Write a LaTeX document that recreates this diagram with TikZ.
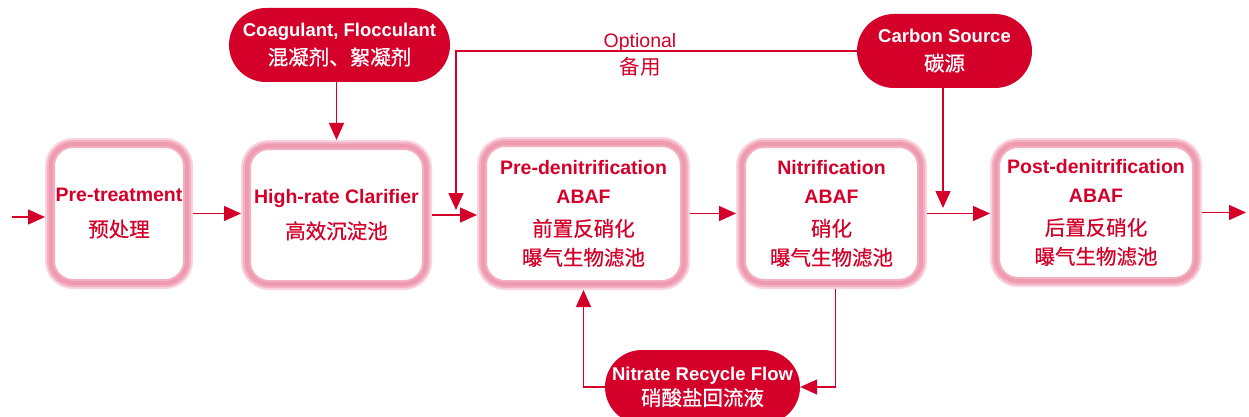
\documentclass[tikz,border=0pt]{standalone}
\usepackage{fontspec}
\setmainfont{Liberation Sans}
\newfontfamily\cjk[FakeBold=0.6]{Noto Sans CJK SC}
\newfontfamily\cjklight{Noto Sans CJK SC}
\usetikzlibrary{arrows.meta,shapes.misc}
\definecolor{dred}{RGB}{212,0,42}
\definecolor{pinkA}{RGB}{249,212,222}
\definecolor{pinkB}{RGB}{243,176,194}
\definecolor{pinkC}{RGB}{238,155,177}
\newcommand{\en}[1]{{\bfseries #1}}
\newcommand{\zh}[1]{{\fontsize{20.5}{29}\cjk #1}}
\begin{document}
\begin{tikzpicture}[x=1pt,y=-1pt,
  stage/.style={rectangle, rounded corners=22pt, draw=pinkB, line width=8pt, fill=white,
     preaction={draw=pinkA, line width=12pt}, postaction={draw=pinkC, line width=4pt},
     text=dred, align=center, outer sep=6pt, inner sep=0pt,
     font=\fontsize{19.5}{29}\selectfont},
  pill/.style={rounded rectangle, fill=dred, text=white, align=center, inner sep=0pt,
     minimum height=74pt, font=\fontsize{18.5}{28}\selectfont},
  flow/.style={draw=dred, line width=1.4pt, -{Triangle[length=17pt,width=15pt]}},
]
\useasboundingbox (0,0) rectangle (1249,417);
\clip (0,0) rectangle (1249,417);
\fill[white] (0,0) rectangle (1249,417);

% stages
\node[stage, minimum width=136pt, minimum height=139pt] (pre) at (119,213.5)
  {\en{Pre-treatment}\\[6pt]\zh{预处理}};
\node[stage, minimum width=179pt, minimum height=138pt] (hrc) at (336.5,215)
  {\en{High-rate Clarifier}\\[6pt]\zh{高效沉淀池}};
\node[stage, minimum width=201pt, minimum height=141pt] (predn) at (583.5,213.5)
  {\en{Pre-denitrification}\\\en{ABAF}\\[4pt]\zh{前置反硝化}\\\zh{曝气生物滤池}};
\node[stage, minimum width=179pt, minimum height=139pt] (nit) at (831.5,213.5)
  {\en{Nitrification}\\\en{ABAF}\\[4pt]\zh{硝化}\\\zh{曝气生物滤池}};
\node[stage, minimum width=200pt, minimum height=137pt] (post) at (1096,212.5)
  {\en{Post-denitrification}\\\en{ABAF}\\[4pt]\zh{后置反硝化}\\\zh{曝气生物滤池}};

% additive pills
\node[pill, minimum width=221pt] (coag) at (339.5,45)
  {\en{Coagulant, Flocculant}\\\zh{混凝剂、絮凝剂}};
\node[pill, minimum width=175pt] (carbon) at (944.5,51)
  {\en{Carbon Source}\\\zh{碳源}};
\node[pill, minimum width=195pt] (nitrate) at (702.5,387)
  {\en{Nitrate Recycle Flow}\\[-3pt]\zh{硝酸盐回流液}};

% label
\node[text=dred, align=center, font=\fontsize{19.5}{27}\selectfont] (opt) at (640,54.5)
  {Optional\\{\fontsize{20.5}{27}\cjklight 备用}};

% coordinates for free ends
\coordinate (in) at (12,217);
\coordinate (out) at (1246,213);
\coordinate (oend) at (456,210);
\coordinate (cend) at (943,208);

% main flow
\draw[flow] (in) -- (in -| pre.west);
\draw[flow] (pre.east) -- (pre.east -| hrc.west);
\draw[flow] (hrc.east) -- (hrc.east -| predn.west);
\draw[flow] (predn.east) -- (predn.east -| nit.west);
\draw[flow] (nit.east) -- (nit.east -| post.west);
\draw[flow] (post.east) -- (post.east -| out);

% dosing
\draw[flow] (coag.south -| hrc.north) -- (hrc.north);
\draw[flow] (carbon.south -| cend) -- (cend);
\draw[flow] (carbon.west) -| (oend);

% nitrate recycle
\draw[flow] ([xshift=4pt]nit.south) |- (nitrate.east);
\draw[flow] (nitrate.west) -| (predn.south);
\end{tikzpicture}
\end{document}
